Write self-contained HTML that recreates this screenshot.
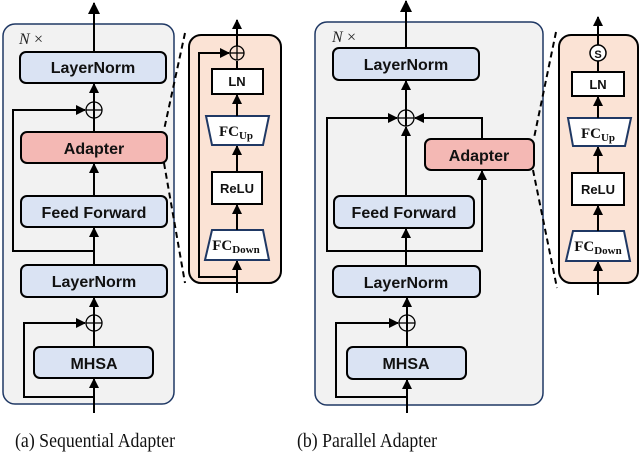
<!DOCTYPE html>
<html><head><meta charset="utf-8"><style>body{margin:0;background:#fff}svg{display:block}</style></head><body>
<svg width="640" height="453" viewBox="0 0 640 453" xmlns="http://www.w3.org/2000/svg" font-family="Liberation Sans, sans-serif">
<defs><marker id="a" markerWidth="10" markerHeight="10" refX="9" refY="5" orient="auto" markerUnits="userSpaceOnUse"><path d="M0,0 L10,5 L0,10 z" fill="#000"/></marker>
<marker id="b" markerWidth="12" markerHeight="12" refX="11" refY="6" orient="auto" markerUnits="userSpaceOnUse"><path d="M0,0 L12,6 L0,12 z" fill="#000"/></marker></defs>
<g stroke="#000" stroke-width="2" fill="none">
<!-- Panel A -->
<rect x="3" y="24" width="171" height="380" rx="12" fill="#f2f2f2" stroke="#1f3864" stroke-width="1.5"/>
<line x1="94" y1="52" x2="94" y2="3" marker-end="url(#b)"/>
<rect x="20" y="52" width="146" height="31" rx="6" fill="#dae3f3"/>
<line x1="94" y1="118" x2="94" y2="84" marker-end="url(#a)"/>
<circle cx="94" cy="110" r="8" stroke-width="1.3"/>
<line x1="94" y1="102" x2="94" y2="118" stroke-width="1.3"/><line x1="86" y1="110" x2="102" y2="110" stroke-width="1.3"/>
<polyline points="94,251 13,251 13,110 85,110" marker-end="url(#a)"/>
<line x1="94" y1="132" x2="94" y2="118"/>
<rect x="21" y="132" width="146" height="31" rx="6" fill="#f4b8b4"/>
<line x1="94" y1="196" x2="94" y2="164" marker-end="url(#a)"/>
<rect x="21" y="196" width="146" height="31" rx="6" fill="#dae3f3"/>
<line x1="94" y1="265" x2="94" y2="228" marker-end="url(#a)"/>
<rect x="21" y="265" width="146" height="32" rx="6" fill="#dae3f3"/>
<line x1="94" y1="331" x2="94" y2="298" marker-end="url(#a)"/>
<circle cx="94" cy="323" r="8" stroke-width="1.3"/>
<line x1="86" y1="323" x2="102" y2="323" stroke-width="1.3"/>
<polyline points="94,397 24,397 24,323 85,323" marker-end="url(#a)"/>
<line x1="94" y1="347" x2="94" y2="331"/>
<rect x="34" y="347" width="119" height="31" rx="6" fill="#dae3f3"/>
<line x1="94" y1="413" x2="94" y2="379" marker-end="url(#a)"/>
<line x1="185" y1="33" x2="164" y2="130" stroke-dasharray="6,4"/>
<line x1="164" y1="163" x2="185" y2="283" stroke-dasharray="6,4"/>
<!-- Detail A -->
<rect x="189" y="35" width="92" height="248" rx="12" fill="#fbe3d5"/>
<line x1="237" y1="293" x2="237" y2="261" marker-end="url(#a)"/>
<polyline points="237,277 199,277 199,53 229,53" marker-end="url(#a)"/>
<path d="M212,230 L263,230 L269,260 L205,260 Z" fill="#fff" stroke="#1f3864"/>
<line x1="237" y1="230" x2="237" y2="205" marker-end="url(#a)"/>
<rect x="212" y="172" width="50" height="32" fill="#fff"/>
<line x1="237" y1="172" x2="237" y2="146" marker-end="url(#a)"/>
<path d="M206,116 L269,116 L263,145 L212,145 Z" fill="#fff" stroke="#1f3864"/>
<line x1="237" y1="116" x2="237" y2="95" marker-end="url(#a)"/>
<rect x="212" y="69" width="51" height="25" fill="#fff"/>
<line x1="237" y1="69" x2="237" y2="61"/>
<circle cx="237" cy="53" r="7" stroke-width="1.3"/>
<line x1="237" y1="46" x2="237" y2="60" stroke-width="1.3"/><line x1="230" y1="53" x2="244" y2="53" stroke-width="1.3"/>
<line x1="237" y1="46" x2="237" y2="20" marker-end="url(#a)"/>
<!-- Panel B -->
<rect x="315" y="22" width="228" height="383" rx="12" fill="#f2f2f2" stroke="#1f3864" stroke-width="1.5"/>
<line x1="406" y1="48" x2="406" y2="1" marker-end="url(#b)"/>
<rect x="333" y="48" width="146" height="32" rx="6" fill="#dae3f3"/>
<line x1="406" y1="126" x2="406" y2="81" marker-end="url(#a)"/>
<circle cx="406" cy="118" r="8" stroke-width="1.3"/>
<line x1="398" y1="118" x2="414" y2="118" stroke-width="1.3"/>
<polyline points="406,251 327,251 327,118 397,118" marker-end="url(#a)"/>
<polyline points="482,139 482,118 415,118" marker-end="url(#a)"/>
<line x1="406" y1="196" x2="406" y2="127" marker-end="url(#a)"/>
<polyline points="406,251 482,251 482,171" marker-end="url(#a)"/>
<rect x="425" y="139" width="109" height="31" rx="6" fill="#f4b8b4"/>
<rect x="334" y="196" width="140" height="32" rx="6" fill="#dae3f3"/>
<line x1="406" y1="266" x2="406" y2="229" marker-end="url(#a)"/>
<rect x="333" y="266" width="147" height="31" rx="6" fill="#dae3f3"/>
<line x1="407" y1="331" x2="407" y2="298" marker-end="url(#a)"/>
<circle cx="407" cy="323" r="8" stroke-width="1.3"/>
<line x1="399" y1="323" x2="415" y2="323" stroke-width="1.3"/>
<polyline points="407,397 336,397 336,323 398,323" marker-end="url(#a)"/>
<line x1="407" y1="347" x2="407" y2="331"/>
<rect x="347" y="347" width="119" height="32" rx="6" fill="#dae3f3"/>
<line x1="407" y1="413" x2="407" y2="380" marker-end="url(#a)"/>
<line x1="556" y1="32" x2="534" y2="138" stroke-dasharray="6,4"/>
<line x1="533" y1="170" x2="557" y2="288" stroke-dasharray="6,4"/>
<!-- Detail B -->
<rect x="559" y="35" width="79" height="248" rx="12" fill="#fbe3d5"/>
<line x1="598" y1="295" x2="598" y2="262" marker-end="url(#a)"/>
<path d="M573,231 L624,231 L630,261 L566,261 Z" fill="#fff" stroke="#1f3864"/>
<line x1="598" y1="231" x2="598" y2="206" marker-end="url(#a)"/>
<rect x="572" y="173" width="52" height="32" fill="#fff"/>
<line x1="598" y1="173" x2="598" y2="147" marker-end="url(#a)"/>
<path d="M568,118 L631,118 L625,146 L573,146 Z" fill="#fff" stroke="#1f3864"/>
<line x1="598" y1="118" x2="598" y2="97" marker-end="url(#a)"/>
<rect x="572" y="72" width="52" height="24" fill="#fff"/>
<line x1="598" y1="72" x2="598" y2="61"/>
<circle cx="598" cy="53" r="8" fill="#fff" stroke-width="1.5"/>
<line x1="598" y1="45" x2="598" y2="17" marker-end="url(#a)"/>
</g>
<g font-weight="bold" font-size="16" text-anchor="middle" fill="#111">
<text x="93" y="73">LayerNorm</text>
<text x="94" y="154">Adapter</text>
<text x="94" y="218">Feed Forward</text>
<text x="94" y="287">LayerNorm</text>
<text x="94" y="369">MHSA</text>
<text x="406" y="70">LayerNorm</text>
<text x="479" y="161">Adapter</text>
<text x="404" y="218">Feed Forward</text>
<text x="406" y="288">LayerNorm</text>
<text x="406" y="369">MHSA</text>
<g font-size="13">
<text x="237" y="86">LN</text><text x="237" y="193">ReLU</text>
<text x="598" y="89">LN</text><text x="598" y="194">ReLU</text>
<text x="598" y="58" font-size="11">S</text>
</g>
<g font-family="Liberation Serif, serif" font-size="15">
<text x="236" y="136">FC<tspan font-size="11" dy="3">Up</tspan></text>
<text x="236" y="250">FC<tspan font-size="11" dy="3">Down</tspan></text>
<text x="598" y="138">FC<tspan font-size="11" dy="3">Up</tspan></text>
<text x="598" y="251">FC<tspan font-size="11" dy="3">Down</tspan></text>
</g></g>
<g font-family="Liberation Serif, serif" font-size="16" fill="#222">
<text x="19" y="44" font-style="italic">N</text><text x="34" y="44">×</text>
<text x="332" y="42" font-style="italic">N</text><text x="347" y="42">×</text>
</g>
<g font-family="Liberation Serif, serif" font-size="20" fill="#111">
<text x="15" y="447" textLength="160" lengthAdjust="spacingAndGlyphs">(a) Sequential Adapter</text>
<text x="297" y="447" textLength="140" lengthAdjust="spacingAndGlyphs">(b) Parallel Adapter</text>
</g>
</svg>
</body></html>
